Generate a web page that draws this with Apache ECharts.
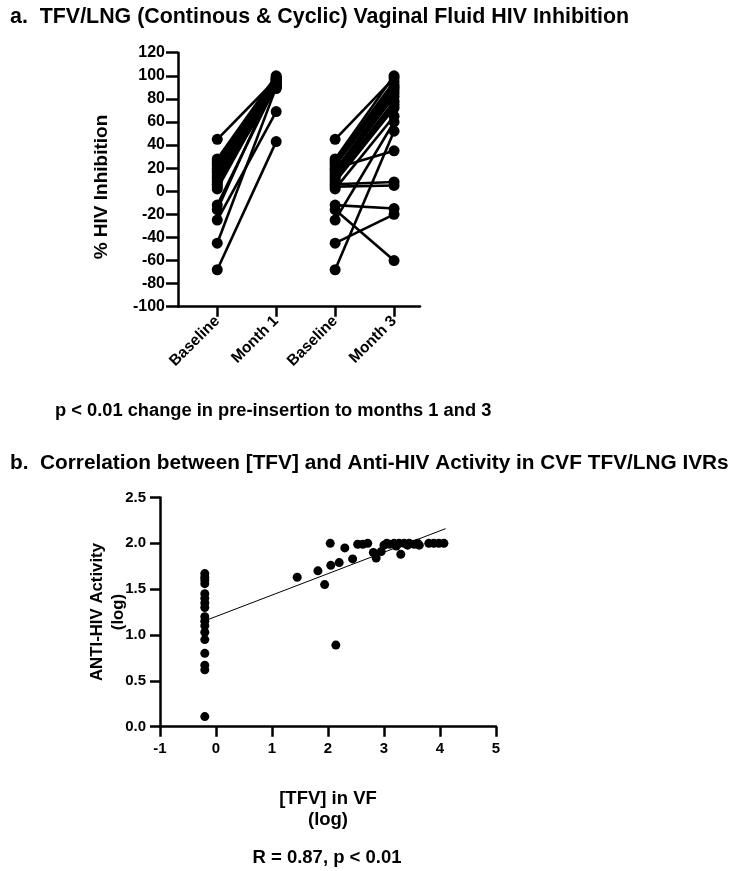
<!DOCTYPE html>
<html><head><meta charset="utf-8">
<script src="https://cdn.jsdelivr.net/npm/echarts@6/dist/echarts.min.js"></script>
<style>html,body{margin:0;padding:0;background:#fff}#c{width:737px;height:871px}</style>
</head><body><div id="c"></div>
<script>
// ---------- Panel a data ----------
const timepointLabels = ['Baseline', 'Month 1', 'Baseline', 'Month 3'];
const baselineM1 = [45, 28, 26, 24, 22, 20, 18, 16, 14, 12, 10, 8, 6, 4, 2, -12, -16, -25, -45, -68];
const month1     = [97, 100, 99, 98, 96, 95, 94, 93, 92, 91, 90, 89, 98, 96, 94, 92, 97, 69, 90, 43];
const baselineM3 = [45, 28, 26, 24, 22, 20, 18, 16, 14, 12, 10, 8, 6, 4, 2, -12, -16, -25, -45, -68];
const month3     = [98, 100, 95, 92, 90, 35, 88, 85, 82, 78, 75, 72, 8, 5, 65, -15, -60, 60, -20, 52];

// ---------- Panel b data ----------
const tfvLog = [-0.2, -0.2, -0.2, -0.2, -0.2, -0.2, -0.2, -0.2, -0.2, -0.2, -0.2, -0.2, -0.2, -0.2, -0.2, -0.2, -0.2,
  1.45, 1.82, 1.94, 2.04, 2.05, 2.14, 2.2, 2.3, 2.44, 2.53, 2.62, 2.71, 2.81, 2.86, 2.95, 3.0, 3.05, 3.1, 3.18, 3.22,
  3.27, 3.3, 3.36, 3.42, 3.45, 3.54, 3.6, 3.63, 3.8, 3.89, 3.98, 4.07];
const activityLog = [1.67, 1.63, 1.6, 1.56, 1.45, 1.4, 1.35, 1.3, 1.2, 1.15, 1.1, 1.03, 0.95, 0.8, 0.67, 0.62, 0.11,
  1.63, 1.7, 1.55, 2.0, 1.76, 0.89, 1.79, 1.95, 1.83, 1.99, 1.99, 2.0, 1.9, 1.84, 1.91, 1.98, 2.0, 1.99, 2.0, 1.97,
  2.0, 1.88, 2.0, 1.98, 2.0, 1.99, 2.0, 1.98, 2.0, 2.0, 2.0, 2.0];
const fitX = [-0.2, 4.1];
const fitY = [1.155, 2.16];

const FONT = 'Liberation Sans, Arial, sans-serif';
const chart = echarts.init(document.getElementById('c'));

const series = [];
function addPairs(xa, xb, before, after) {
  for (let i = 0; i < before.length; i++) {
    series.push({
      type: 'line', xAxisIndex: 0, yAxisIndex: 0,
      data: [[xa, before[i]], [xb, after[i]]],
      symbol: 'circle', symbolSize: 11,
      lineStyle: { color: '#000', width: 2.6 },
      itemStyle: { color: '#000', opacity: 1 },
      animation: false, silent: true
    });
  }
}
addPairs(1, 2, baselineM1, month1);
addPairs(3, 4, baselineM3, month3);

series.push({
  type: 'scatter', xAxisIndex: 1, yAxisIndex: 1,
  data: tfvLog.map((x, i) => [x, activityLog[i]]),
  symbol: 'circle', symbolSize: 9,
  itemStyle: { color: '#000', opacity: 1 }, animation: false, silent: true
});
series.push({
  type: 'line', xAxisIndex: 1, yAxisIndex: 1,
  data: fitX.map((x, i) => [x, fitY[i]]),
  showSymbol: false, symbol: 'none',
  lineStyle: { color: '#000', width: 1 }, animation: false, silent: true
});

const axisLine = { show: true, onZero: false, lineStyle: { color: '#000', width: 2.5 } };
const tickStyle = { color: '#000', width: 2.5 };

chart.setOption({
  backgroundColor: '#fff',
  animation: false,
  grid: [
    { left: 178, top: 52.7, width: 242, height: 254, outerBoundsMode: 'none' },
    { left: 160, top: 497.5, width: 336, height: 229.2, outerBoundsMode: 'none' }
  ],
  xAxis: [
    {
      type: 'value', gridIndex: 0, min: 0.334, max: 4.44,
      axisLine, splitLine: { show: false },
      axisTick: { show: true, length: 10, lineStyle: tickStyle, customValues: [1, 2, 3, 4] },
      axisLabel: {
        customValues: [1, 2, 3, 4], rotate: 45, margin: 12,
        formatter: v => timepointLabels[Math.round(v) - 1],
        color: '#000', fontWeight: 'bold', fontSize: 15.5, fontFamily: FONT
      }
    },
    {
      type: 'value', gridIndex: 1, min: -1, max: 5, interval: 1,
      axisLine, splitLine: { show: false },
      axisTick: { show: true, length: 10, lineStyle: tickStyle },
      axisLabel: { margin: 15, color: '#000', fontWeight: 'bold', fontSize: 15, fontFamily: FONT },
      name: '[TFV] in VF\n(log)', nameLocation: 'middle', nameGap: 62,
      nameTextStyle: { color: '#000', fontWeight: 'bold', fontSize: 18.5, fontFamily: FONT, lineHeight: 21 }
    }
  ],
  yAxis: [
    {
      type: 'value', gridIndex: 0, min: -100, max: 120, interval: 20,
      axisLine, splitLine: { show: false },
      axisTick: { show: true, length: 12, lineStyle: tickStyle },
      axisLabel: { margin: 13, color: '#000', fontWeight: 'bold', fontSize: 16, fontFamily: FONT }
    },
    {
      type: 'value', gridIndex: 1, min: 0, max: 2.5, interval: 0.5,
      axisLine, splitLine: { show: false },
      axisTick: { show: true, length: 10, lineStyle: tickStyle },
      axisLabel: { margin: 14, formatter: v => v.toFixed(1), color: '#000', fontWeight: 'bold', fontSize: 15, fontFamily: FONT }
    }
  ],
  graphic: [
    { type: 'text', x: 10, y: 17, style: { text: 'a.  TFV/LNG (Continous & Cyclic) Vaginal Fluid HIV Inhibition', font: 'bold 21.4px ' + FONT, fill: '#000', verticalAlign: 'middle' } },
    { type: 'text', x: 102, y: 187, rotation: Math.PI / 2, style: { text: '% HIV Inhibition', font: 'bold 19px ' + FONT, fill: '#000', align: 'center', verticalAlign: 'middle' } },
    { type: 'text', x: 55, y: 411, style: { text: 'p < 0.01 change in pre-insertion to months 1 and 3', font: 'bold 18.3px ' + FONT, fill: '#000', verticalAlign: 'middle' } },
    { type: 'text', x: 10, y: 463, style: { text: 'b.  Correlation between [TFV] and Anti-HIV Activity in CVF TFV/LNG IVRs', font: 'bold 20.8px ' + FONT, fill: '#000', verticalAlign: 'middle' } },
    { type: 'text', x: 107.5, y: 612, rotation: Math.PI / 2, style: { text: 'ANTI-HIV Activity\n(log)', font: 'bold 16.8px ' + FONT, fill: '#000', align: 'center', verticalAlign: 'middle', lineHeight: 21 } },
    { type: 'text', x: 327, y: 858, style: { text: 'R = 0.87, p < 0.01', font: 'bold 18.5px ' + FONT, fill: '#000', align: 'center', verticalAlign: 'middle' } }
  ],
  series
});
</script></body></html>
